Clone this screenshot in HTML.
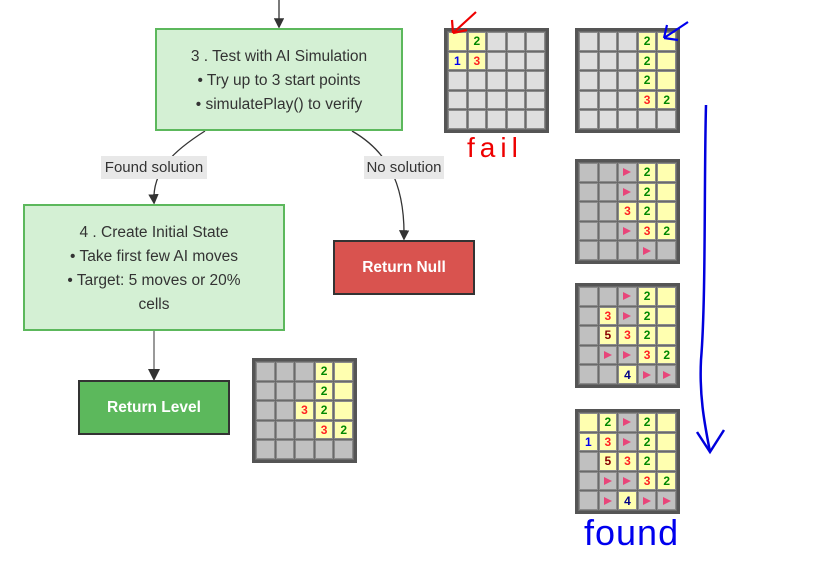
<!DOCTYPE html>
<html><head><meta charset="utf-8"><style>
body{margin:0;width:815px;height:562px;background:#fff;position:relative;overflow:hidden;font-family:"Liberation Sans",sans-serif}
.box{position:absolute;box-sizing:border-box;text-align:center;color:#333;font-size:15.5px}
.g{background:#d4f0d4;border:2px solid #5cb85c}
.lab{position:absolute;background:#e8e8e8;color:#333;font-size:15px;height:23px;line-height:23px;text-align:center}
.grid{position:absolute;width:105px;height:105px;box-sizing:border-box;border:3px solid #555;background:#6a6a6a;display:grid;grid-template-columns:repeat(5,1fr);grid-template-rows:repeat(5,1fr);gap:1px;padding:1px}
.c{box-sizing:border-box;border:1px solid #8a8a8a;display:flex;align-items:center;justify-content:center;font-weight:bold;font-size:12px}
.fl{width:0;height:0;border-top:4px solid transparent;border-bottom:4px solid transparent;border-left:8px solid #e8457a}
</style></head><body>
<svg width="815" height="562" style="position:absolute;left:0;top:0">
<defs><marker id="ah" markerWidth="8" markerHeight="8" refX="6" refY="4" orient="auto"><path d="M0,0L8,4L0,8z" fill="#333"/></marker></defs>
<path d="M279,0V26" stroke="#333" stroke-width="1.3" fill="none" marker-end="url(#ah)"/>
<path d="M205,131C175,150 152,170 154,202" stroke="#333" stroke-width="1.3" fill="none" marker-end="url(#ah)"/>
<path d="M352,131C385,150 405,180 404,238" stroke="#333" stroke-width="1.3" fill="none" marker-end="url(#ah)"/>
<path d="M154,331V378" stroke="#777" stroke-width="1.5" fill="none" marker-end="url(#ah)"/>
</svg>
<div class="box g" style="left:155px;top:28px;width:248px;height:103px;padding-top:15px;line-height:24px">3 . Test with AI Simulation<br>• Try up to 3 start points<br>• simulatePlay() to verify</div>
<div class="lab" style="left:101px;top:156px;width:106px">Found solution</div>
<div class="lab" style="left:364px;top:156px;width:80px">No solution</div>
<div class="box g" style="left:23px;top:204px;width:262px;height:127px;padding:15px 0 0;line-height:24px;white-space:nowrap">4 . Create Initial State<br>• Take first few AI moves<br>• Target: 5 moves or 20%<br>cells</div>
<div class="box" style="left:333px;top:240px;width:142px;height:55px;background:#d9534f;border:2px solid #333;color:#fff;font-weight:bold;line-height:51px">Return Null</div>
<div class="box" style="left:78px;top:380px;width:152px;height:55px;background:#5cb85c;border:2px solid #333;color:#fff;font-weight:bold;line-height:51px">Return Level</div>
<div style="position:absolute;left:467px;top:132px;color:#e00;font-size:28px;letter-spacing:5px">fail</div>
<div style="position:absolute;left:584px;top:512px;color:#00e;font-size:36px;letter-spacing:1px">found</div>
<div id="grids"></div>
<svg width="815" height="562" style="position:absolute;left:0;top:0;z-index:5">
<path d="M453,33L476,12M453,33L467,30M453,33L452,20" stroke="#e00" stroke-width="2.2" fill="none"/>
<path d="M664,38L688,22M664,38L678,40M664,38L667,25" stroke="#00e" stroke-width="2.2" fill="none"/>
<path d="M706,105C704,180 706,300 701,360C699,400 706,430 710,452" stroke="#00d" stroke-width="2.5" fill="none"/>
<path d="M697,432L710,452L724,430" stroke="#00d" stroke-width="2.5" fill="none"/>
</svg>
<script>
const grid1=["o2hhh","13hhh","hhhhh","hhhhh","hhhhh"];
const grid2=["hhh2o","hhh2o","hhh2o","hhh32","hhhhh"];
const grid3=["hhf2o","hhf2o","hh32o","hhf32","hhhfh"];
const grid4=["hhf2o","h3f2o","h532o","hff32","hh4ff"];
const grid5=["o2f2o","13f2o","h532o","hff32","hf4ff"];
const grid6=["hhh2o","hhh2o","hh32o","hhh32","hhhhh"];
const grids=[[grid1,444,28,true,'fail-grid'],[grid2,575,28,true,'start-grid'],[grid3,575,159,false,'step-grid-1'],[grid4,575,283,false,'step-grid-2'],[grid5,575,409,false,'found-grid'],[grid6,252,358,false,'initial-state-grid']];
const col={1:'#00e',2:'#080',3:'#f22',4:'#008',5:'#800'};
const host=document.getElementById('grids');
grids.forEach(([g,x,y,light,name])=>{
 const d=document.createElement('div');d.className='grid';d.style.left=x+'px';d.style.top=y+'px';
 
 
 g.forEach((row,r)=>[...row].forEach((ch,ci)=>{
  const c=document.createElement('div');c.className='c';
  
  
  if(ch==='h'||ch==='f'){c.style.background=light?'#dedede':'#c0c0c0';}
  else{c.style.background='#ffffb0';}
  if(ch==='f'){const f=document.createElement('div');f.className='fl';c.appendChild(f);}
  else if(col[ch]){c.textContent=ch;c.style.color=col[ch];}
  d.appendChild(c);
 }));
 host.appendChild(d);
});
</script>
</body></html>
